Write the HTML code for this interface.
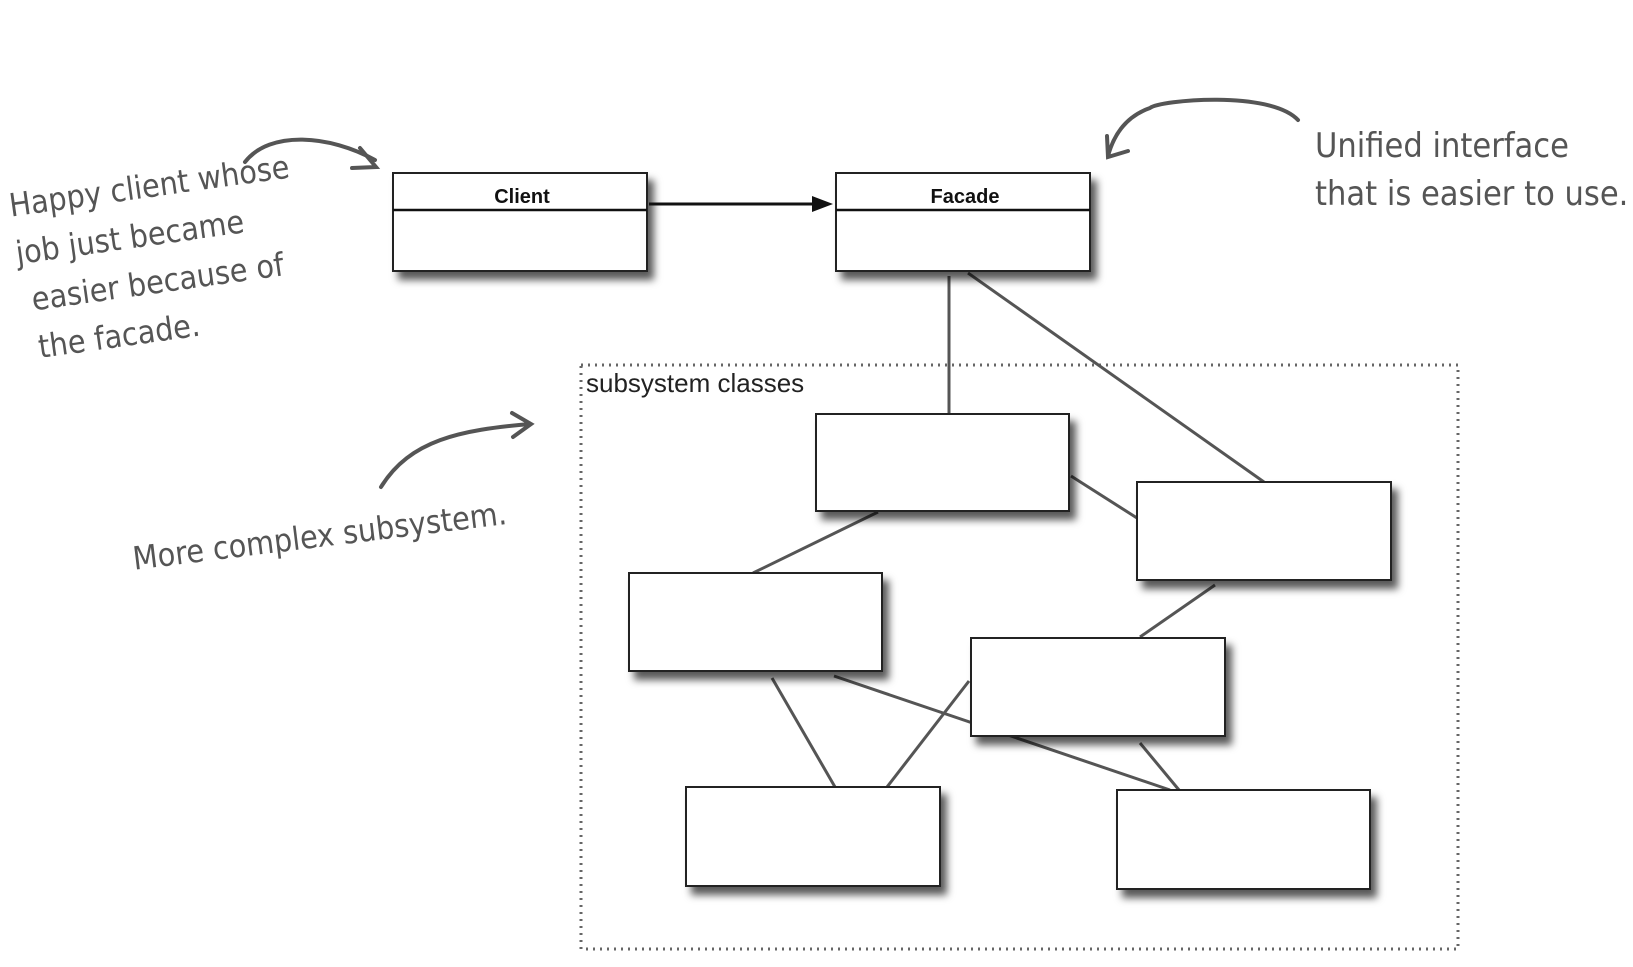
<!DOCTYPE html>
<html><head><style>
body{margin:0;width:1633px;height:967px;background:#fff;overflow:hidden;position:relative;font-family:"Liberation Sans",sans-serif}
.h{position:absolute;color:#555;font-family:"DejaVu Sans Condensed","Liberation Sans",sans-serif;font-size:32px;line-height:48px;white-space:nowrap}
</style></head><body>
<svg width="1633" height="967" style="position:absolute;left:0;top:0">
<defs><filter id="s" x="-10%" y="-10%" width="130%" height="140%"><feDropShadow dx="6" dy="8" stdDeviation="4" flood-color="#000" flood-opacity="0.65"/></filter></defs>
<rect x="581" y="365" width="877" height="584" fill="none" stroke="#666" stroke-width="3" stroke-dasharray="2,5"/>
<text x="586" y="392" font-family="Liberation Sans" font-size="26" fill="#222">subsystem classes</text>
<g stroke="#555" stroke-width="3" fill="none">
<line x1="949" y1="276" x2="949" y2="414"/>
<line x1="968" y1="273" x2="1264" y2="482"/>
<line x1="1071" y1="476" x2="1137" y2="518"/>
<line x1="878" y1="512" x2="753" y2="573"/>
<line x1="1215" y1="585" x2="1140" y2="637"/>
<line x1="772" y1="678" x2="835" y2="787"/>
<line x1="834" y1="676" x2="1170" y2="790"/>
<line x1="969" y1="681" x2="887" y2="787"/>
<line x1="1140" y1="743" x2="1179" y2="790"/>
</g>
<g fill="#fff" stroke="#222" stroke-width="2" filter="url(#s)">
<rect x="393" y="173" width="254" height="98"/>
<rect x="836" y="173" width="254" height="98"/>
<rect x="816" y="414" width="253" height="97"/>
<rect x="1137" y="482" width="254" height="98"/>
<rect x="629" y="573" width="253" height="98"/>
<rect x="971" y="638" width="254" height="98"/>
<rect x="686" y="787" width="254" height="99"/>
<rect x="1117" y="790" width="253" height="99"/>
</g>
<line x1="393" y1="210" x2="647" y2="210" stroke="#111" stroke-width="2.5"/>
<line x1="836" y1="210" x2="1090" y2="210" stroke="#111" stroke-width="2.5"/>
<text x="522" y="203" text-anchor="middle" font-size="20" font-weight="bold" fill="#111">Client</text>
<text x="965" y="203" text-anchor="middle" font-size="20" font-weight="bold" fill="#111">Facade</text>
<line x1="649" y1="204" x2="814" y2="204" stroke="#111" stroke-width="3"/>
<polygon points="833,204 812,196 812,212" fill="#111"/>
<g stroke="#555" stroke-width="4" fill="none" stroke-linecap="round">
<path d="M245,162 C270,130 330,135 375,160"/>
<path d="M360,148 L376,167 L352,168"/>
<path d="M1298,120 C1270,90 1160,100 1150,108 C1130,115 1115,130 1108,156"/>
<path d="M1107,136 L1108,157 L1128,151"/>
<path d="M381,487 C410,440 460,430 530,424"/>
<path d="M512,413 L531,424 L513,437"/>
</g>
</svg>
<div class="h" style="left:6px;top:182px;transform:rotate(-8deg);transform-origin:0 0">Happy client whose<br>job just became<br>&nbsp;easier because of<br>&nbsp;the facade.</div>
<div class="h" style="left:1315px;top:122px;font-size:34px">Unified interface<br>that is easier to use.</div>
<div class="h" style="left:130px;top:535px;transform:rotate(-7deg);transform-origin:0 0">More complex subsystem.</div>
</body></html>
